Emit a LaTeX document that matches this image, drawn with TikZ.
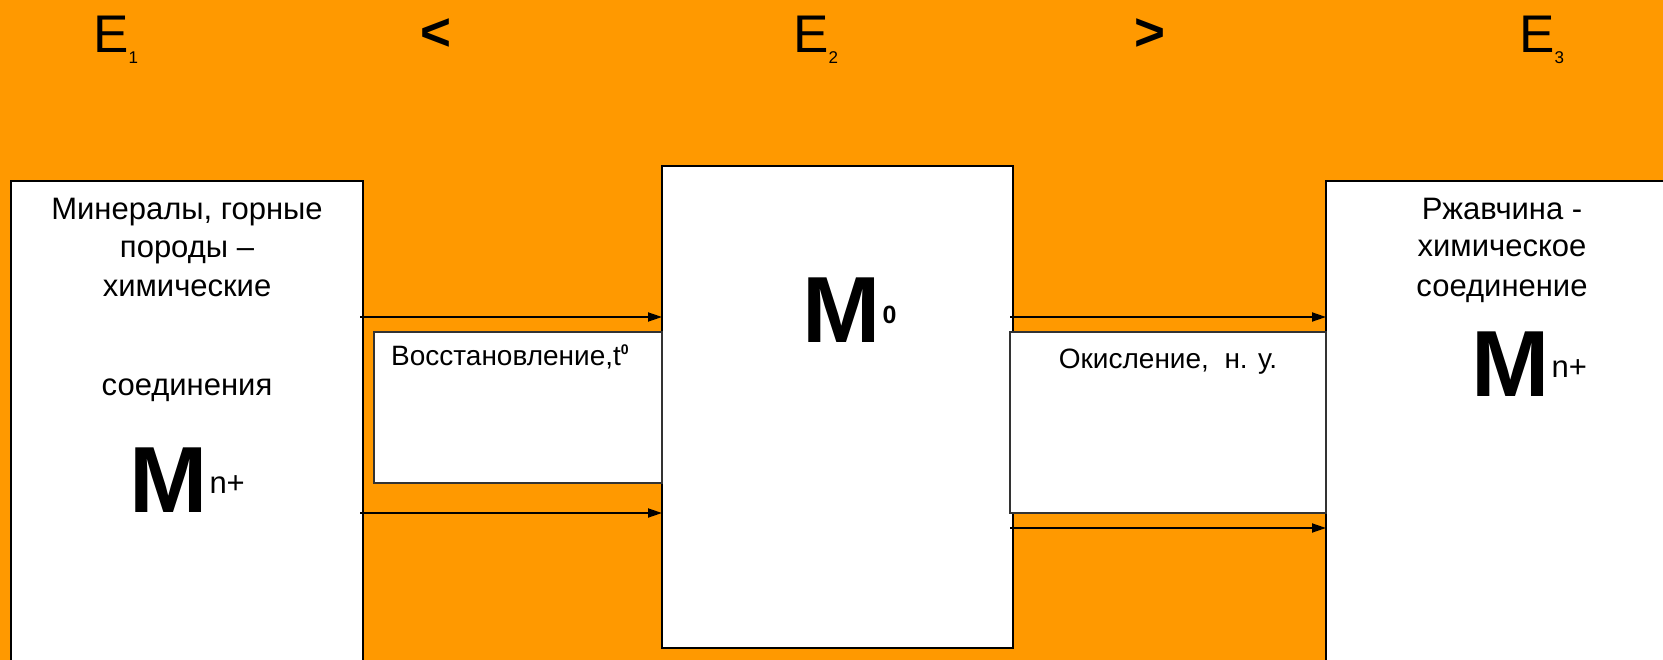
\documentclass[tikz,border=0pt]{standalone}
\usepackage{fontspec}
\setmainfont{Liberation Sans}
\usetikzlibrary{arrows.meta,calc}
\definecolor{slideOrange}{RGB}{255,153,0}
\definecolor{frameGray}{RGB}{51,51,51}
\tikzset{
  panel/.style={draw=black, line width=2pt, fill=white, inner sep=0pt, outer sep=0pt},
  condbox/.style={draw=frameGray, line width=1.5pt, fill=white, inner sep=0pt, outer sep=0pt},
  flow/.style={-{Triangle[length=14pt,width=9pt]}, line width=1.8pt, draw=black},
  level/.style={inner sep=0pt, anchor=base west, font=\fontsize{53}{53}\selectfont},
  sign/.style={inner sep=0pt, font=\fontsize{53}{53}\selectfont\bfseries},
  word/.style={inner sep=0pt, anchor=base, font=\fontsize{31}{31}\selectfont},
  note/.style={inner sep=0pt, font=\fontsize{28}{28}\selectfont},
  ion/.style={inner sep=0pt, anchor=base west}
}
\newcommand{\lowidx}[1]{\raisebox{-11pt}{\fontsize{17}{17}\selectfont #1}}
\newcommand{\bigmetal}[3]{{\fontsize{94}{94}\bfseries M}\kern2pt\raisebox{#1}{#2#3}}

\begin{document}
\begin{tikzpicture}[x=1pt,y=-1pt]
    \useasboundingbox (0,0) rectangle (1663,660);
    \clip (0,0) rectangle (1663,660);
    \fill[slideOrange] (0,0) rectangle (1663,660);
    \node[level] (e1) at (93,53) {E\lowidx{1}};
    \node[sign] (lt) at (436,34.5) {<};
    \node[level] (e2) at (793,53) {E\lowidx{2}};
    \node[sign] (gt) at (1150,35) {>};
    \node[level] (e3) at (1519,53) {E\lowidx{3}};
    \node[panel, minimum width=352, minimum height=519] (minerals) at (187,440.5) {};
    \node[panel, minimum width=351, minimum height=482] (metal) at (837.5,407) {};
    \node[panel, minimum width=374, minimum height=519] (rust) at (1513,440.5) {};
    \node[condbox, minimum width=288, minimum height=151] (reduct) at (518,407.5) {};
    \node[condbox, minimum width=316, minimum height=181] (oxid) at (1168,422.5) {};
    \draw[flow] ([xshift=-3pt]minerals.east |- 0,317) -- (metal.west |- 0,317);
    \draw[flow] ([xshift=-3pt]minerals.east |- 0,513) -- (metal.west |- 0,513);
    \draw[flow] (oxid.west |- 0,317) -- (rust.west |- 0,317);
    \draw[flow] (oxid.west |- 0,528) -- (rust.west |- 0,528);
    \node[word] (m1) at (187,220) {Минералы, горные};
    \node[word] (m2) at (187,258) {породы –};
    \node[word] (m3) at (187,297) {химические};
    \node[word] (m4) at (187,395) {соединения};
    \node[ion] (mleft) at (129,512) {\bigmetal{19pt}{\fontsize{31}{31}\selectfont}{n+}};
    \node[ion] (mzero) at (802,342) {\bigmetal{18pt}{\fontsize{25}{25}\bfseries}{0}};
    \node[word] (r1) at (1502,220) {Ржавчина -};
    \node[word] (r2) at (1502,257) {химическое};
    \node[word] (r3) at (1502,297) {соединение};
    \node[ion] (mright) at (1471,396) {\bigmetal{19pt}{\fontsize{31}{31}\selectfont}{n+}};
    \node[note, anchor=base west] (redtext) at (391,366) {Восстановление,t\raisebox{11pt}{\fontsize{14}{14}\bfseries 0}};
    \node[note, anchor=base] (oxtext) at (1168,369) {Окисление,\ \ н. у.};
  \end{tikzpicture}
\end{document}
